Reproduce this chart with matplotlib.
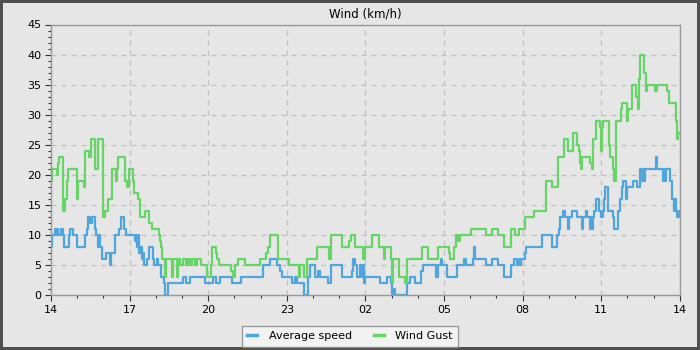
import matplotlib
matplotlib.use("Agg")
import matplotlib.pyplot as plt
from matplotlib.ticker import MultipleLocator, FuncFormatter

# hours after 14:00, km/h  (step data)
avg_speed = [
    (0.00, 8), (0.03, 10), (0.15, 11), (0.18, 10), (0.25, 11), (0.28, 10), (0.38, 11), (0.45, 10),
    (0.50, 8), (0.68, 10), (0.74, 11), (0.85, 10), (0.98, 8), (1.30, 10), (1.38, 11), (1.42, 13),
    (1.50, 12), (1.55, 13), (1.68, 11), (1.73, 10), (1.78, 8), (1.82, 10), (1.86, 8), (1.93, 6),
    (2.10, 7), (2.24, 5), (2.28, 7), (2.45, 10), (2.58, 11), (2.66, 13), (2.80, 11), (2.86, 10),
    (3.20, 9), (3.24, 10), (3.28, 8), (3.32, 10), (3.36, 7), (3.42, 8), (3.46, 6), (3.52, 7),
    (3.56, 5), (3.67, 6), (3.74, 8), (3.88, 6), (3.92, 5), (4.06, 6), (4.10, 5), (4.18, 3),
    (4.30, 2), (4.36, 0), (4.48, 2), (5.03, 3), (5.16, 2), (5.30, 3), (5.88, 2), (6.18, 3),
    (6.30, 2), (6.44, 3), (6.90, 2), (7.26, 3), (8.10, 5), (8.36, 6), (8.61, 5), (8.74, 4),
    (8.80, 3), (9.20, 2), (9.31, 3), (9.37, 2), (9.67, 0), (9.82, 3), (9.89, 5), (10.08, 3),
    (10.20, 4), (10.27, 3), (10.58, 2), (10.69, 5), (11.12, 3), (11.48, 4), (11.54, 6), (11.60, 5),
    (11.67, 3), (11.80, 5), (11.86, 3), (11.90, 5), (11.94, 2), (11.98, 3), (12.56, 2), (12.82, 3),
    (12.98, 2), (13.02, 0), (13.08, 1), (13.14, 0), (13.60, 2), (13.70, 3), (13.90, 2), (14.12, 4),
    (14.19, 5), (14.68, 3), (14.78, 5), (14.87, 6), (14.91, 5), (15.10, 3), (15.48, 5), (15.76, 6),
    (15.84, 5), (16.12, 6), (16.16, 8), (16.20, 6), (16.62, 5), (16.82, 6), (17.05, 5), (17.28, 3),
    (17.54, 5), (17.68, 6), (17.80, 5), (17.85, 6), (17.90, 5), (17.95, 6), (18.08, 7), (18.14, 8),
    (18.75, 10), (19.12, 8), (19.30, 10), (19.38, 11), (19.43, 13), (19.55, 14), (19.62, 13), (19.72, 11),
    (19.78, 13), (19.87, 14), (20.09, 13), (20.27, 11), (20.31, 13), (20.42, 14), (20.47, 13), (20.57, 11),
    (20.61, 13), (20.64, 11), (20.68, 13), (20.73, 14), (20.80, 16), (20.93, 14), (20.98, 13), (21.08, 14),
    (21.11, 16), (21.14, 18), (21.27, 14), (21.44, 13), (21.49, 11), (21.65, 14), (21.72, 16), (21.78, 18),
    (21.84, 19), (21.96, 16), (22.00, 18), (22.20, 19), (22.38, 18), (22.50, 21), (22.54, 19), (22.58, 21),
    (22.62, 19), (22.66, 21), (23.08, 23), (23.14, 21), (23.37, 19), (23.40, 21), (23.44, 19), (23.48, 21),
    (23.62, 19), (23.69, 18), (23.72, 16), (23.77, 14), (23.81, 16), (23.84, 14), (23.90, 13), (23.94, 14),
    (23.98, 13), (24.00, 13),
]

wind_gust = [
    (0.00, 19), (0.03, 21), (0.22, 20), (0.26, 22), (0.30, 23), (0.46, 14), (0.53, 16), (0.60, 19),
    (0.65, 21), (0.97, 19), (1.00, 16), (1.03, 19), (1.24, 18), (1.28, 20), (1.31, 24), (1.46, 23),
    (1.53, 26), (1.68, 21), (1.80, 26), (1.98, 19), (2.00, 13), (2.05, 14), (2.18, 16), (2.34, 21),
    (2.46, 19), (2.50, 21), (2.55, 23), (2.84, 19), (2.90, 18), (2.96, 21), (3.12, 19), (3.18, 17),
    (3.30, 16), (3.38, 13), (3.57, 14), (3.72, 12), (3.84, 11), (4.12, 10), (4.16, 9), (4.20, 8),
    (4.25, 6), (4.33, 3), (4.40, 6), (4.60, 3), (4.66, 6), (4.80, 3), (4.86, 6), (4.92, 5),
    (5.04, 6), (5.14, 5), (5.22, 6), (5.30, 5), (5.37, 6), (5.50, 5), (5.56, 6), (5.71, 5),
    (5.94, 3), (6.10, 5), (6.14, 8), (6.28, 7), (6.33, 6), (6.42, 5), (6.88, 4), (6.94, 3),
    (7.04, 5), (7.14, 6), (7.42, 5), (7.98, 6), (8.22, 7), (8.29, 8), (8.36, 10), (8.68, 6),
    (9.08, 5), (9.46, 3), (9.52, 5), (9.64, 3), (9.76, 6), (10.14, 8), (10.60, 6), (10.68, 10),
    (11.12, 8), (11.36, 9), (11.44, 10), (11.60, 8), (11.92, 6), (11.98, 8), (12.26, 10), (12.52, 8),
    (12.71, 6), (12.76, 8), (12.98, 6), (13.02, 2), (13.06, 6), (13.30, 3), (13.50, 2), (13.58, 6),
    (14.18, 8), (14.40, 6), (14.76, 8), (15.18, 7), (15.22, 6), (15.40, 8), (15.46, 10), (15.54, 9),
    (15.60, 10), (16.05, 11), (16.60, 10), (16.85, 11), (17.07, 10), (17.30, 8), (17.56, 11), (17.70, 10),
    (17.86, 11), (18.08, 13), (18.42, 14), (18.90, 19), (19.12, 18), (19.34, 23), (19.58, 26), (19.72, 24),
    (19.94, 27), (20.08, 25), (20.14, 24), (20.19, 22), (20.24, 21), (20.28, 23), (20.58, 22), (20.64, 21),
    (20.69, 26), (20.79, 29), (20.96, 28), (21.00, 24), (21.04, 28), (21.09, 29), (21.29, 25), (21.33, 23),
    (21.45, 21), (21.50, 19), (21.56, 25), (21.58, 29), (21.76, 31), (21.80, 32), (21.97, 29), (22.01, 31),
    (22.18, 35), (22.34, 33), (22.40, 31), (22.44, 36), (22.48, 40), (22.64, 37), (22.70, 34), (22.77, 35),
    (23.06, 34), (23.14, 35), (23.51, 34), (23.60, 32), (23.87, 29), (23.90, 26), (23.94, 27), (24.00, 27),
]

start_hour = 14
bg = '#e6e6e6'

fig = plt.figure(figsize=(7, 3.5), dpi=100, facecolor=bg, edgecolor='#505050', linewidth=3)
ax = fig.add_axes([0.073, 0.157, 0.898, 0.773])
ax.set_facecolor(bg)

t_avg, v_avg = zip(*avg_speed)
t_gust, v_gust = zip(*wind_gust)
ax.step(t_avg, v_avg, where='post', color='#4ea6dc', lw=1.6, label='Average speed')
ax.step(t_gust, v_gust, where='post', color='#66d466', lw=1.6, label='Wind Gust')

ax.set_xlim(0, 24)
ax.set_ylim(0, 45)
ax.xaxis.set_major_locator(MultipleLocator(3))
ax.xaxis.set_minor_locator(MultipleLocator(1))
ax.yaxis.set_major_locator(MultipleLocator(5))
ax.yaxis.set_minor_locator(MultipleLocator(1))
ax.xaxis.set_major_formatter(FuncFormatter(lambda x, p: '%02d' % ((start_hour + int(round(x))) % 24)))

ax.grid(True, which='major', color='#c0c0c0', linestyle=(0, (4, 4)), linewidth=0.9)
ax.set_axisbelow(True)
for s in ax.spines.values():
    s.set_color('#999999')
    s.set_linewidth(1)
ax.tick_params(which='major', direction='out', length=4, width=0.8, color='#333333', labelsize=8, pad=3)
ax.tick_params(which='minor', direction='out', length=2.5, width=0.8, color='#333333')

ax.set_title('Wind (km/h)', fontsize=8.5, pad=5)

leg = fig.legend(loc='center', bbox_to_anchor=(0.5, 0.039), ncol=2, fontsize=8,
                 frameon=True, fancybox=False, handlelength=0.9, handletextpad=1.0,
                 columnspacing=2.0, borderpad=0.5)
leg.get_frame().set_facecolor('#f6f6f6')
leg.get_frame().set_edgecolor('#888888')
leg.get_frame().set_linewidth(1)
for h in leg.legend_handles:
    h.set_linewidth(2.5)

fig.savefig('out.png', dpi=100, facecolor=bg, edgecolor='#505050')
